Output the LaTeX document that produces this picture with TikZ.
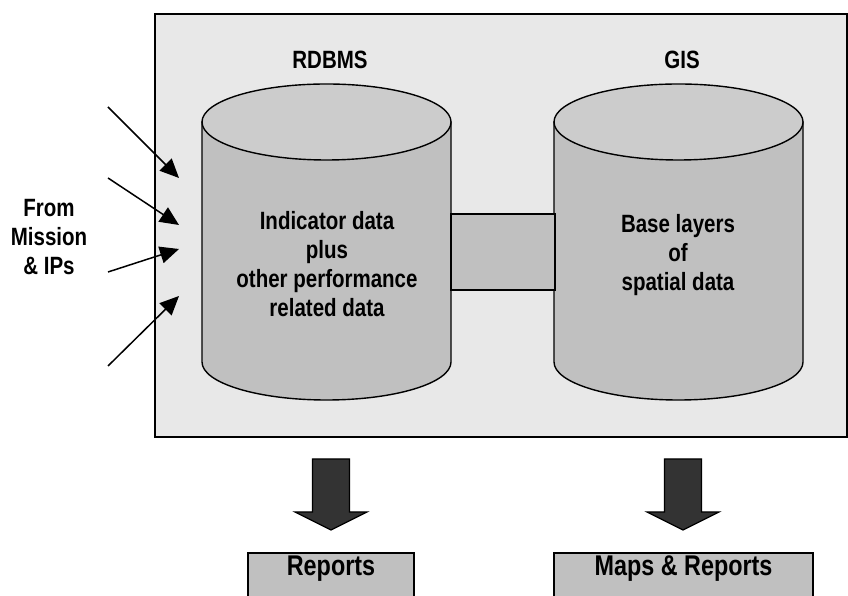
\documentclass[tikz,border=0pt]{standalone}
\usepackage{fontspec}
\setmainfont[FakeStretch=0.82]{Liberation Sans}
\usetikzlibrary{arrows.meta}

\definecolor{panelgray}{RGB}{232,232,232}
\definecolor{bodygray}{RGB}{192,192,192}
\definecolor{lidgray}{RGB}{204,204,204}
\definecolor{arrowgray}{RGB}{51,51,51}

\tikzset{
  lbl/.style={align=center, inner sep=0pt, font=\bfseries\fontsize{25}{29}\selectfont},
  outlbl/.style={align=center, inner sep=0pt, font=\bfseries\fontsize{28.5}{32}\selectfont},
  panel/.style={draw=black, line width=1.5pt, fill=panelgray},
  dbside/.style={draw=black, line width=1.4pt, fill=bodygray},
  dblid/.style={draw=black, line width=1.4pt, fill=lidgray},
  linkbox/.style={draw=black, line width=1.5pt, fill=bodygray, inner sep=0pt},
  outbox/.style={draw=black, line width=1.5pt, fill=bodygray, inner sep=0pt},
  feed/.style={line width=1.5pt, -{Triangle[length=19pt,width=17pt]}},
  blockarrow/.style={draw=black, line width=1.2pt, fill=arrowgray},
  % block arrow pointing down, anchored at the middle of the shaft top
  downarr/.pic={
    \draw[blockarrow] (-18.5,0) -- (18.5,0) -- (18.5,-53) -- (36,-53)
      -- (0,-71) -- (-36,-53) -- (-18.5,-53) -- cycle;
  },
  % database cylinder, anchored at the centre of the top ellipse
  dbcyl/.pic={
    \draw[dbside] (-124.5,0) -- (-124.5,-240)
      arc[start angle=180, end angle=360, x radius=124.5, y radius=38]
      -- (124.5,0) -- cycle;
    \draw[dblid] (0,0) ellipse[x radius=124.5, y radius=38];
  }
}

\begin{document}
\begin{tikzpicture}[x=1pt, y=1pt]
  \useasboundingbox (0,0) rectangle (848,596);

  % enclosing panel
  \draw[panel] (155,159) rectangle (847,582);

  % the two data stores
  \pic at (326.5,474) {dbcyl};
  \pic at (678.5,474) {dbcyl};

  % link between the stores
  \node[linkbox, minimum width=104pt, minimum height=76pt] (link) at (503,344) {};

  % headings and contents
  \node[lbl] (rdbms) at (330,536) {RDBMS};
  \node[lbl] (gis) at (682,536) {GIS};
  \node[lbl] (rdata) at (327,332) {Indicator data\\plus\\other performance\\related data};
  \node[lbl] (gdata) at (678,341) {Base layers\\of\\spatial data};

  % incoming feeds
  \node[lbl] (src) at (49,359) {From\\Mission\\\& IPs};
  \coordinate (s1) at (108,489); \coordinate (t1) at (179,418);
  \coordinate (s2) at (108,418); \coordinate (t2) at (179,371);
  \coordinate (s3) at (108,324); \coordinate (t3) at (179,347);
  \coordinate (s4) at (108,230); \coordinate (t4) at (179,300);
  \draw[feed] (s1) -- (t1);
  \draw[feed] (s2) -- (t2);
  \draw[feed] (s3) -- (t3);
  \draw[feed] (s4) -- (t4);

  % outputs
  \pic at (331,137) {downarr};
  \pic at (683,137) {downarr};
  \node[outbox, minimum width=166pt, minimum height=50pt] (rep) at (331,18) {};
  \node[outlbl] at (rep.center |- 0,27) {Reports};
  \node[outbox, minimum width=259pt, minimum height=50pt] (maps) at (683.5,18) {};
  \node[outlbl] at (maps.center |- 0,27) {Maps \& Reports};
\end{tikzpicture}
\end{document}
